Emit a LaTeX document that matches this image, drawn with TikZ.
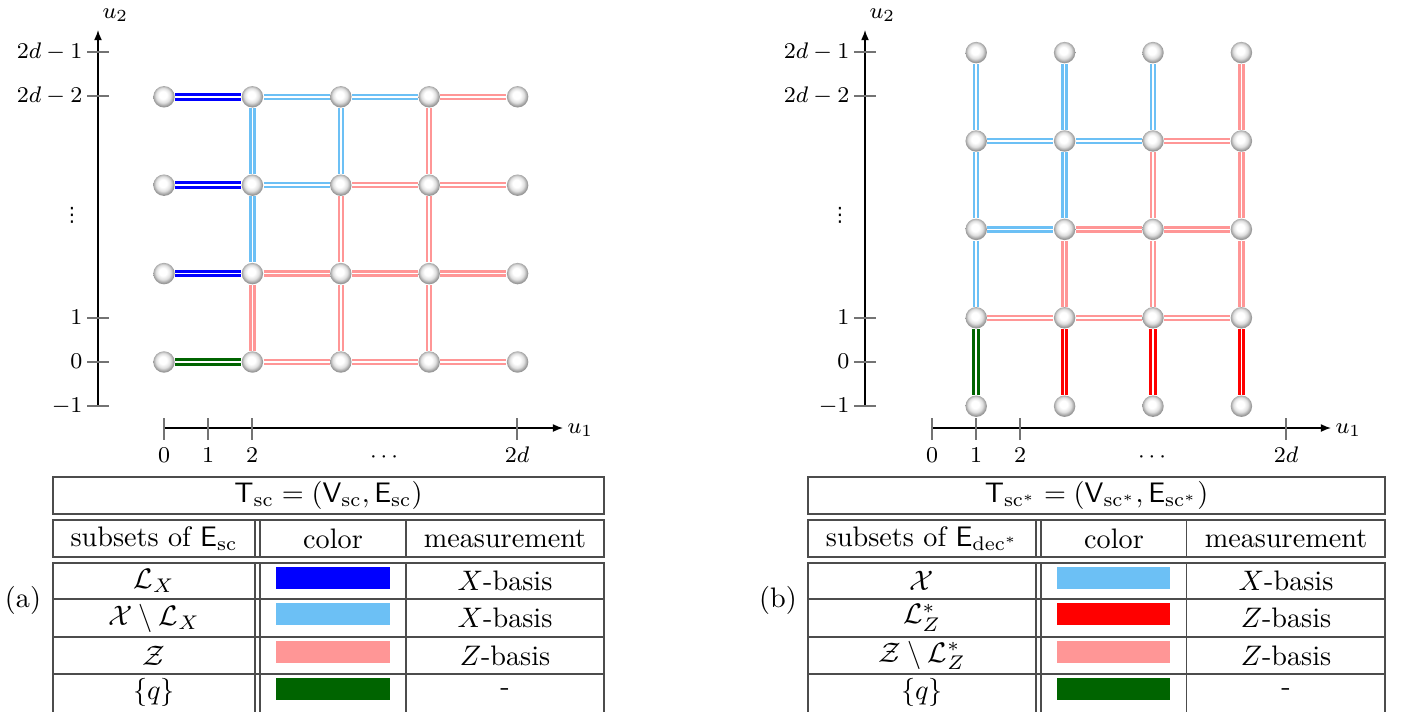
\documentclass[tikz,border=0pt]{standalone}
\usepackage{fontspec}
\newfontfamily\dejavu{DejaVu Sans}
\usetikzlibrary{arrows.meta,backgrounds}
\definecolor{cblue}{RGB}{0,0,255}
\definecolor{clblue}{RGB}{108,192,245}
\definecolor{cpink}{RGB}{255,150,150}
\definecolor{cred}{RGB}{255,0,0}
\definecolor{cgreen}{RGB}{0,100,0}
\pgfdeclareradialshading{lightball}{\pgfqpoint{-3bp}{5bp}}{color(0bp)=(white); color(9bp)=(white); color(17bp)=(black!12); color(25bp)=(black!42); color(50bp)=(black!42)}
\tikzset{
  ball/.style={circle, minimum size=7.6pt, inner sep=0pt, shading=lightball},
  strongedge/.style={line width=1.1pt, double distance=0.55pt, double=white},
  lightedge/.style={line width=0.85pt, double distance=0.6pt, double=white},
  eblue/.style={strongedge, draw=cblue},
  ered/.style={strongedge, draw=cred},
  egreen/.style={strongedge, draw=cgreen},
  elblue/.style={lightedge, draw=clblue},
  epink/.style={lightedge, draw=cpink},
  axline/.style={line width=0.45pt, black},
  axarrow/.style={axline, -{Latex[length=3.6pt,width=2.8pt]}},
  tick/.style={line width=0.45pt, black!55},
  axlab/.style={font=\footnotesize, inner sep=0pt},
  vdotlab/.style={font=\dejavu\fontsize{7}{8}\selectfont, inner sep=0pt},
  tline/.style={draw=black!70, line width=0.5pt},
  cell/.style={inner sep=0pt},
}
\begin{document}
\begin{tikzpicture}[x=0.3546pt,y=-0.3546pt]
\useasboundingbox (0,0) rectangle (1402,711);

% ================= panel (a) =================
\coordinate (a-ax2s) at (98,406);
\coordinate (a-ax2e) at (98,30);
\draw[axarrow] (a-ax2s) -- (a-ax2e);
\node[axlab, anchor=base west] (a-u2) at (102,18) {$u_2$};
\coordinate (a-ax1s) at (164,428);
\coordinate (a-ax1e) at (563,428);
\draw[axarrow] (a-ax1s) -- (a-ax1e);
\node[axlab, anchor=base west] (a-u1) at (567,433) {$u_1$};
\foreach \y/\t/\n in {52/{2d-1}/t7, 96/{2d-2}/t6, 318/{1}/t1, 362/{0}/t0, 406/{-1}/tm}{
  \draw[tick] (87,\y) -- (109,\y);
  \node[axlab, anchor=base east] (a-\n) at (83,\y+6.8) {$\t$};
}
\node[vdotlab] (a-vd) at (72,215) {⋮};
\foreach \x/\t/\n in {164/0/s0, 208/1/s1, 252/2/s2, 517/2d/s8}{
  \draw[tick] (\x,418) -- (\x,440);
  \node[axlab, anchor=base] (a-\n) at (\x,462) {$\t$};
}
\node[axlab, anchor=base] (a-cd) at (384,462) {$\cdots$};

\foreach \i in {0,2,4,6,8}{
  \foreach \j in {0,2,4,6}{
    \node[ball] (a-\i-\j) at ({164+44.2*\i},{362-44.2*\j}) {};
  }
}
\begin{pgfonlayer}{background}
\foreach \s/\t/\st in {
  a-0-6/a-2-6/eblue, a-2-6/a-4-6/elblue, a-4-6/a-6-6/elblue, a-6-6/a-8-6/epink,
  a-0-4/a-2-4/eblue, a-2-4/a-4-4/elblue, a-4-4/a-6-4/epink, a-6-4/a-8-4/epink,
  a-0-2/a-2-2/eblue, a-2-2/a-4-2/epink, a-4-2/a-6-2/epink, a-6-2/a-8-2/epink,
  a-0-0/a-2-0/egreen, a-2-0/a-4-0/epink, a-4-0/a-6-0/epink, a-6-0/a-8-0/epink,
  a-2-6/a-2-4/elblue, a-2-4/a-2-2/elblue, a-2-2/a-2-0/epink,
  a-4-6/a-4-4/elblue, a-4-4/a-4-2/epink, a-4-2/a-4-0/epink,
  a-6-6/a-6-4/epink, a-6-4/a-6-2/epink, a-6-2/a-6-0/epink}{
  \draw[style=\st] (\s) -- (\t);
}
\end{pgfonlayer}

% table (a)
\draw[tline] (53,477) rectangle (604,514);
\draw[tline] (53,520) rectangle (604,557);
\draw[tline] (255,520) -- (255,557) (260,520) -- (260,557) (406,520) -- (406,557);
\draw[tline] (53,713) -- (53,563) -- (604,563) -- (604,713);
\draw[tline] (53,599) -- (604,599) (53,637) -- (604,637) (53,674) -- (604,674);
\draw[tline] (255,563) -- (255,713) (260,563) -- (260,713) (406,563) -- (406,713);
\node[cell] (a-title) at (328.5,495.5) {$\mathsf{T}_{\mathrm{sc}}=(\mathsf{V}_{\mathrm{sc}},\mathsf{E}_{\mathrm{sc}})$};
\node[cell] (a-h1) at (154,538.5) {subsets of $\mathsf{E}_{\mathrm{sc}}$};
\node[cell] (a-h2) at (333,538.5) {color};
\node[cell] (a-h3) at (505,538.5) {measurement};
\node[cell] (a-r1) at (154,581) {$\mathcal{L}_X$};
\node[cell] (a-r2) at (154,618) {$\mathcal{X}\setminus\mathcal{L}_X$};
\node[cell] (a-r3) at (154,655.5) {$\mathcal{Z}$};
\node[cell] (a-r4) at (154,692.5) {$\{q\}$};
\fill[cblue] (276,567) rectangle (390,589);
\fill[clblue] (276,603) rectangle (390,625);
\fill[cpink] (276,641) rectangle (390,663);
\fill[cgreen] (276,678) rectangle (390,700);
\node[cell] (a-m1) at (505,581) {$X$-basis};
\node[cell] (a-m2) at (505,618) {$X$-basis};
\node[cell] (a-m3) at (505,655.5) {$Z$-basis};
\node[cell] (a-m4) at (505,692.5) {-};
\node[cell] (a-lab) at (23,600) {(a)};

% ================= panel (b) =================
\coordinate (b-ax2s) at (865,406);
\coordinate (b-ax2e) at (865,30);
\draw[axarrow] (b-ax2s) -- (b-ax2e);
\node[axlab, anchor=base west] (b-u2) at (869,18) {$u_2$};
\coordinate (b-ax1s) at (932,428);
\coordinate (b-ax1e) at (1331,428);
\draw[axarrow] (b-ax1s) -- (b-ax1e);
\node[axlab, anchor=base west] (b-u1) at (1335,433) {$u_1$};
\foreach \y/\t/\n in {52/{2d-1}/t7, 96/{2d-2}/t6, 318/{1}/t1, 362/{0}/t0, 406/{-1}/tm}{
  \draw[tick] (854,\y) -- (876,\y);
  \node[axlab, anchor=base east] (b-\n) at (850,\y+6.8) {$\t$};
}
\node[vdotlab] (b-vd) at (840,215) {⋮};
\foreach \x/\t/\n in {932/0/s0, 976/1/s1, 1020/2/s2, 1286/2d/s8}{
  \draw[tick] (\x,418) -- (\x,440);
  \node[axlab, anchor=base] (b-\n) at (\x,462) {$\t$};
}
\node[axlab, anchor=base] (b-cd) at (1152,462) {$\cdots$};

\foreach \i in {1,3,5,7}{
  \foreach \j/\n in {-1/m,1/1,3/3,5/5,7/7}{
    \node[ball] (b-\i-\n) at ({932+44.2*\i},{362-44.2*\j}) {};
  }
}
\begin{pgfonlayer}{background}
\foreach \s/\t/\st in {
  b-1-m/b-1-1/egreen, b-3-m/b-3-1/ered, b-5-m/b-5-1/ered, b-7-m/b-7-1/ered,
  b-1-1/b-3-1/epink, b-3-1/b-5-1/epink, b-5-1/b-7-1/epink,
  b-1-1/b-1-3/elblue, b-3-1/b-3-3/epink, b-5-1/b-5-3/epink, b-7-1/b-7-3/epink,
  b-1-3/b-3-3/elblue, b-3-3/b-5-3/epink, b-5-3/b-7-3/epink,
  b-1-3/b-1-5/elblue, b-3-3/b-3-5/elblue, b-5-3/b-5-5/epink, b-7-3/b-7-5/epink,
  b-1-5/b-3-5/elblue, b-3-5/b-5-5/elblue, b-5-5/b-7-5/epink,
  b-1-5/b-1-7/elblue, b-3-5/b-3-7/elblue, b-5-5/b-5-7/elblue, b-7-5/b-7-7/epink}{
  \draw[style=\st] (\s) -- (\t);
}
\end{pgfonlayer}

% table (b)
\draw[tline] (808,477) rectangle (1385,514);
\draw[tline] (808,520) rectangle (1385,557);
\draw[tline] (1036,520) -- (1036,557) (1041,520) -- (1041,557) (1186.5,520) -- (1186.5,557);
\draw[tline] (808,713) -- (808,563) -- (1385,563) -- (1385,713);
\draw[tline] (808,599) -- (1385,599) (808,637) -- (1385,637) (808,674) -- (1385,674);
\draw[tline] (1036,563) -- (1036,713) (1041,563) -- (1041,713) (1186.5,563) -- (1186.5,713);
\node[cell] (b-title) at (1096.5,495.5) {$\mathsf{T}_{\mathrm{sc}^*}=(\mathsf{V}_{\mathrm{sc}^*},\mathsf{E}_{\mathrm{sc}^*})$};
\node[cell] (b-h1) at (922,538.5) {subsets of $\mathsf{E}_{\mathrm{dec}^*}$};
\node[cell] (b-h2) at (1114,538.5) {color};
\node[cell] (b-h3) at (1286,538.5) {measurement};
\node[cell] (b-r1) at (922,581) {$\mathcal{X}$};
\node[cell] (b-r2) at (922,618) {$\mathcal{L}^*_Z$};
\node[cell] (b-r3) at (922,655.5) {$\mathcal{Z}\setminus\mathcal{L}^*_Z$};
\node[cell] (b-r4) at (922,692.5) {$\{q\}$};
\fill[clblue] (1057,567) rectangle (1170,589);
\fill[cred] (1057,603) rectangle (1170,625);
\fill[cpink] (1057,641) rectangle (1170,663);
\fill[cgreen] (1057,678) rectangle (1170,700);
\node[cell] (b-m1) at (1286,581) {$X$-basis};
\node[cell] (b-m2) at (1286,618) {$Z$-basis};
\node[cell] (b-m3) at (1286,655.5) {$Z$-basis};
\node[cell] (b-m4) at (1286,692.5) {-};
\node[cell] (b-lab) at (778,600) {(b)};
\end{tikzpicture}
\end{document}
